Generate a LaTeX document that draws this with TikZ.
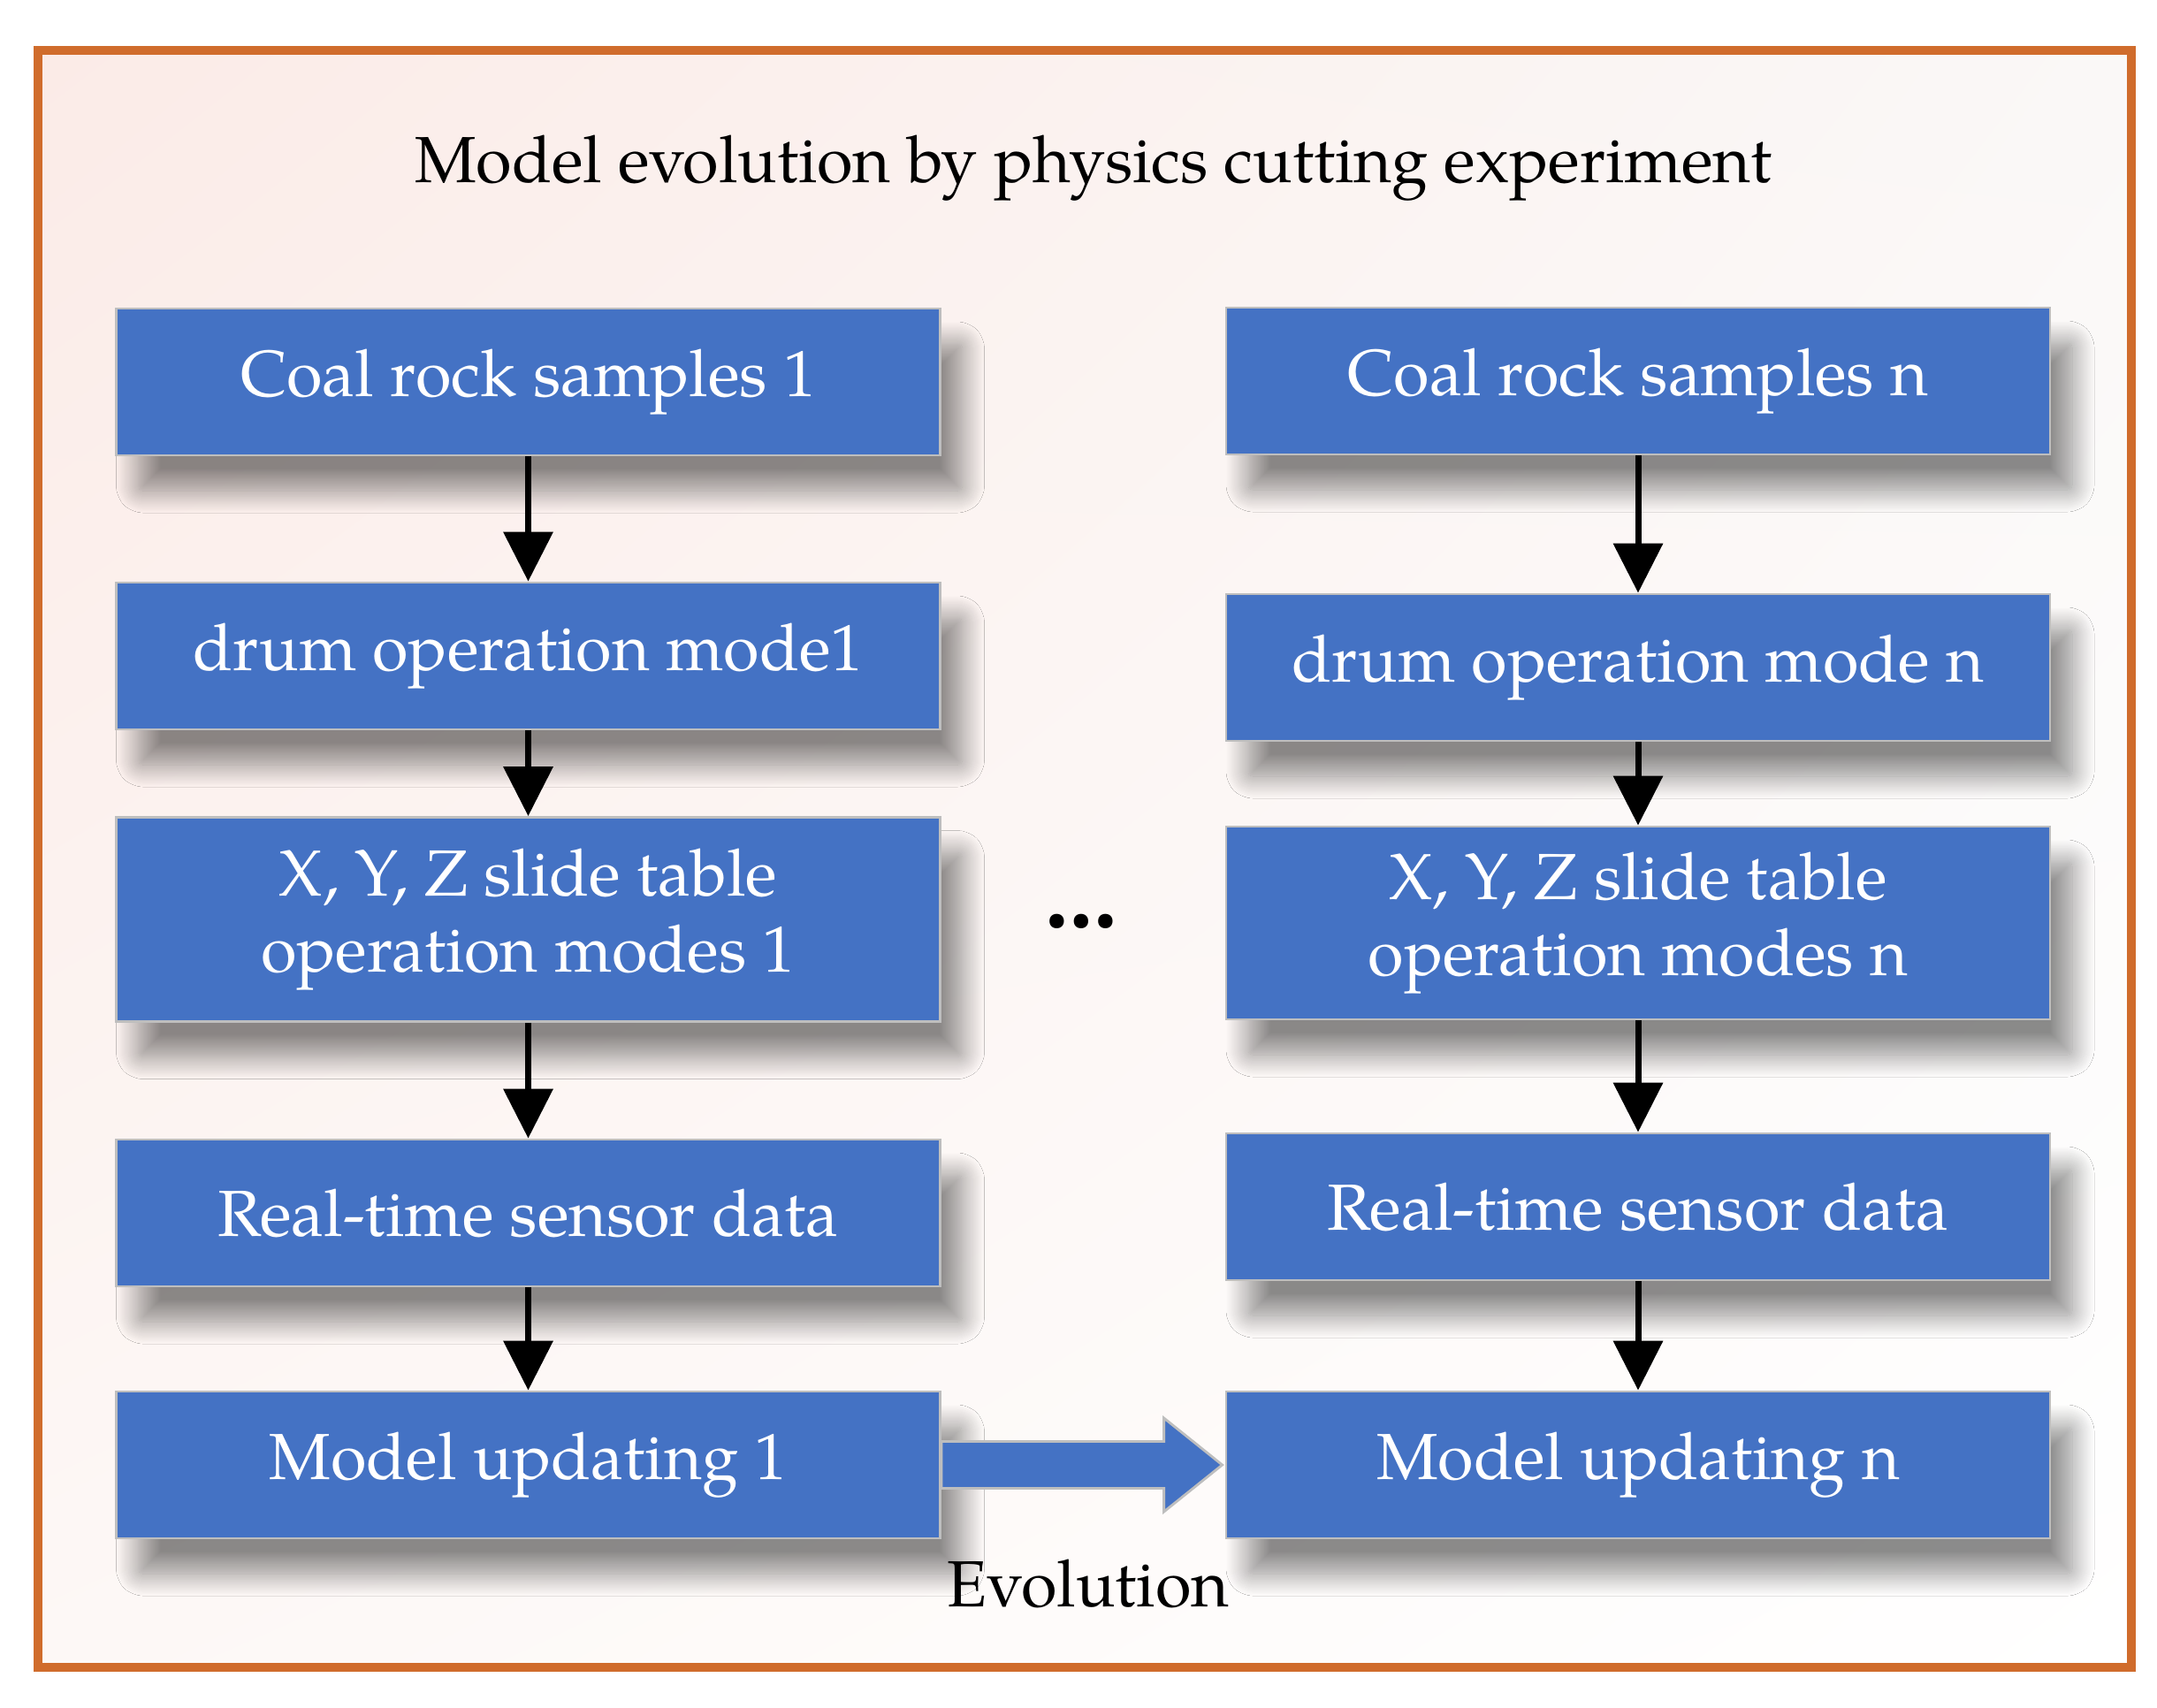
\documentclass[tikz,border=0pt]{standalone}
\usepackage{fontspec}
\setmainfont{TeX Gyre Pagella}
\usetikzlibrary{shadows.blur,arrows.meta,calc,shadings}
\definecolor{boxblue}{RGB}{68,114,196}
\definecolor{boxgray}{RGB}{190,190,190}
\definecolor{frame}{RGB}{208,108,44}
\definecolor{bgtl}{RGB}{251,235,231}
\definecolor{bgtr}{RGB}{250,248,247}
\definecolor{bgbl}{RGB}{253,248,246}
\begin{document}
\begin{tikzpicture}[x=1cm,y=1cm,
  box/.style={draw=boxgray, line width=0.8pt, fill=boxblue, text=white,
    minimum width=9.32cm, minimum height=1.66cm, align=center, inner sep=0pt,
    font=\fontsize{21}{24.5}\selectfont,
    blur shadow={shadow xshift=0.25cm, shadow yshift=-0.4cm, shadow blur radius=0.25cm,
      shadow opacity=45, shadow blur steps=24, shadow blur extra rounding=0.05cm}},
  tall/.style={minimum height=#1},
  conn/.style={line width=2pt, -{Triangle[width=0.55cm,length=0.56cm]}},
  plain/.style={font=\fontsize{21}{24.5}\selectfont, text=black, inner sep=0pt}]
\useasboundingbox (0,0) rectangle (24.4,-19.32);
\fill[white] (0,0) rectangle (24.4,-19.32);
\shade[upper left=bgtl, upper right=bgtr, lower left=bgbl, lower right=white] (0.43,-0.57) rectangle (24.11,-18.86);
\draw[draw=frame, line width=0.1cm] (0.43,-0.57) rectangle (24.11,-18.86);

\node[plain, anchor=base] (title) at (12.37,-2.07) {Model evolution by physics cutting experiment};

\node[box] (L1) at (5.975,-4.32) {Coal rock samples 1};
\node[box] (L2) at (5.975,-7.42) {drum operation mode1};
\node[box, tall=2.31cm] (L3) at (5.975,-10.40) {X, Y, Z slide table\\operation modes 1};
\node[box] (L4) at (5.975,-13.72) {Real-time sensor data};
\node[box] (L5) at (5.975,-16.57) {Model updating 1};

\node[box] (R1) at (18.53,-4.31) {Coal rock samples n};
\node[box] (R2) at (18.53,-7.55) {drum operation mode n};
\node[box, tall=2.18cm] (R3) at (18.53,-10.44) {X, Y, Z slide table\\operation modes n};
\node[box] (R4) at (18.53,-13.65) {Real-time sensor data};
\node[box] (R5) at (18.53,-16.57) {Model updating n};

\node[font=\fontsize{29}{29}\selectfont\bfseries, inner sep=0pt, anchor=base] (dots) at (12.235,-10.50) {…};

\draw[conn] (L1) -- (L2);
\draw[conn] (L2) -- (L3);
\draw[conn] (L3) -- (L4);
\draw[conn] (L4) -- (L5);
\draw[conn] (R1) -- (R2);
\draw[conn] (R2) -- (R3);
\draw[conn] (R3) -- (R4);
\draw[conn] (R4) -- (R5);

\draw[fill=boxblue, draw=boxgray, line width=0.8pt, line join=miter]
  ($(L5.east)+(0,0.265)$) -- ($(R5.west)+(-0.69,0.265)$) -- ($(R5.west)+(-0.69,0.53)$)
  -- ($(R5.west)+(-0.03,0)$) -- ($(R5.west)+(-0.69,-0.53)$) -- ($(R5.west)+(-0.69,-0.265)$)
  -- ($(L5.east)+(0,-0.265)$) -- cycle;

\node[plain, anchor=base] (evo) at (12.31,-18.17) {Evolution};
\end{tikzpicture}
\end{document}
